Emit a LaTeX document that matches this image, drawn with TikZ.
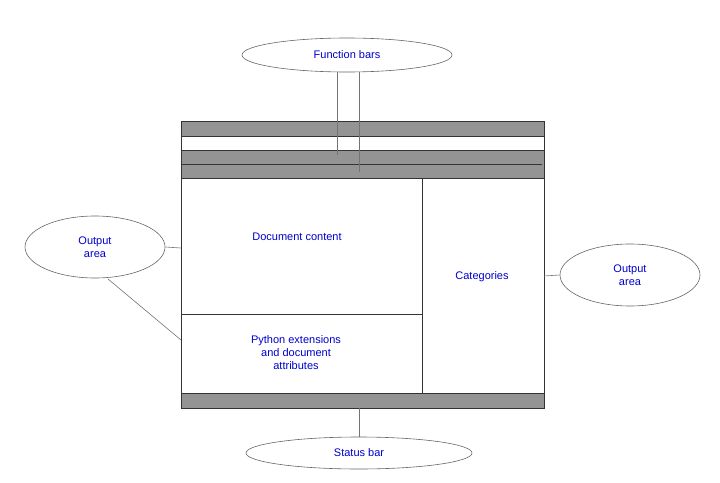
\documentclass[tikz,border=0pt]{standalone}
\usepackage{fontspec}
\setmainfont{Liberation Sans}
\usetikzlibrary{shapes.geometric}
\begin{document}
\begin{tikzpicture}[x=1pt,y=-1pt,
  bar/.style={fill=black!42,draw=black!80,line width=0.8pt},
  box/.style={draw=black!80,line width=0.8pt},
  ell/.style={ellipse,draw=black!60,line width=0.6pt,inner sep=0pt},
  lbl/.style={text=blue!80!black,font=\fontsize{11}{13}\selectfont,align=center},
  con/.style={draw=black!55,line width=0.6pt}]
\useasboundingbox (0,0) rectangle (720,482);
\draw[box] (181,121) rectangle (544,408);
\draw[bar] (181,121) rectangle (544,136);
\draw[bar] (181,150) rectangle (544,178);
\draw[black!80,line width=0.8pt] (181,164) -- (542,164);
\draw[bar] (181,393) rectangle (544,408);
\draw[box] (422,178) -- (422,393);
\draw[box] (181,314) -- (422,314);
\node[lbl] (doc) at (297,237) {Document content};
\node[lbl] (py) at (296,353) {Python extensions\\and document\\attributes};
\node[lbl] (cat) at (482,277) {Categories};
\node[ell,minimum width=210,minimum height=34] (fb) at (347,55) {};
\node[lbl] at (fb) {Function bars};
\node[ell,minimum width=140,minimum height=62] (ol) at (95,247) {};
\node[lbl] at (ol) {Output\\area};
\node[ell,minimum width=140,minimum height=62] (or) at (630,275) {};
\node[lbl] at (or) {Output\\area};
\node[ell,minimum width=226,minimum height=32] (sb) at (359,453) {};
\node[lbl] at (sb) {Status bar};
\coordinate (f1) at (337,155);
\coordinate (f2) at (359,172);
\coordinate (l1) at (181,248);
\coordinate (l2) at (181,340);
\coordinate (r1) at (544,276);
\coordinate (s1) at (359,408);
\draw[con] (337,72) -- (f1);
\draw[con] (359,72) -- (f2);
\draw[con] (ol.east) -- (l1);
\draw[con] (108,279) -- (l2);
\draw[con] (or.west) -- (r1);
\draw[con] (sb.north) -- (s1);
\end{tikzpicture}
\end{document}
